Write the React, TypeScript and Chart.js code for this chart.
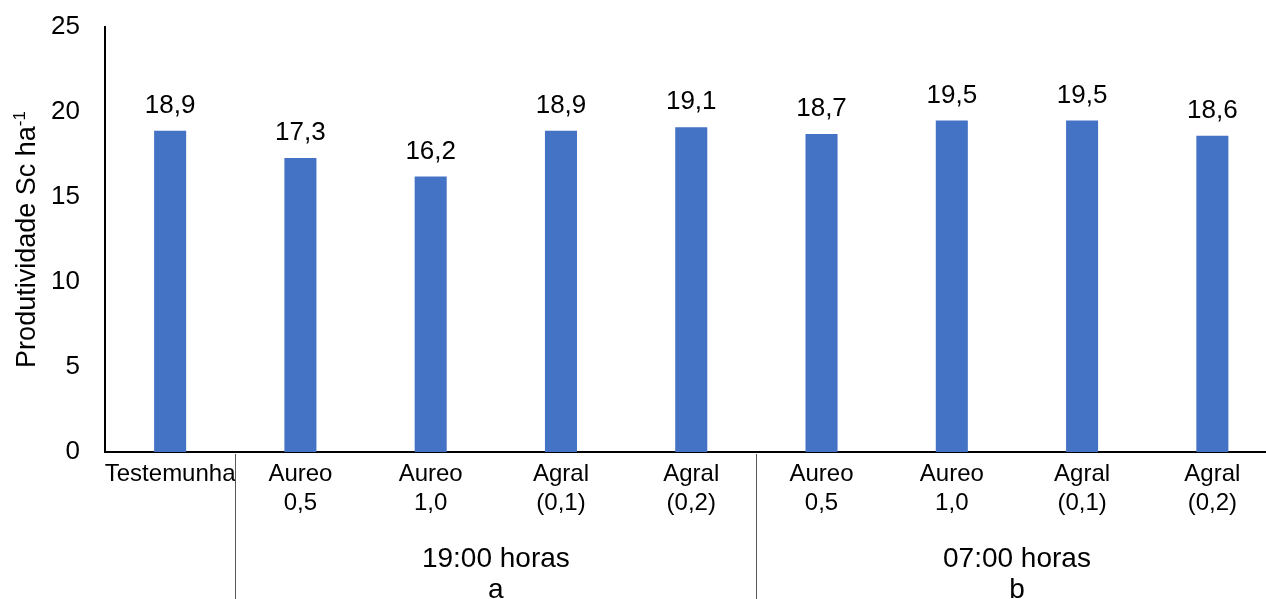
import React, { useEffect, useRef } from "react";
import { Chart, registerables } from "chart.js";

Chart.register(...registerables);

const FONT = "'Liberation Sans', Arial, sans-serif";

const categories: string[][] = [
  ["Testemunha"],
  ["Aureo", "0,5"],
  ["Aureo", "1,0"],
  ["Agral", "(0,1)"],
  ["Agral", "(0,2)"],
  ["Aureo", "0,5"],
  ["Aureo", "1,0"],
  ["Agral", "(0,1)"],
  ["Agral", "(0,2)"],
];
const values: number[] = [18.9, 17.3, 16.2, 18.9, 19.1, 18.7, 19.5, 19.5, 18.6];
const valueLabels: string[] = ["18,9", "17,3", "16,2", "18,9", "19,1", "18,7", "19,5", "19,5", "18,6"];
const groupLabels: string[][] = [
  ["19:00 horas", "a"],
  ["07:00 horas", "b"],
];
const groupStart: number[] = [1, 5];
const groupEnd: number[] = [4, 8];
const yMin = 0;
const yMax = 25;
const yStep = 5;
const yTitle = "Produtividade Sc ha";
const yTitleSup = "-1";

const overlayPlugin = {
  id: "overlay",
  afterDraw(chart: any) {
    const ctx: CanvasRenderingContext2D = chart.ctx;
    const area = chart.chartArea;
    const xScale = chart.scales.x;
    const meta = chart.getDatasetMeta(0);
    ctx.save();
    // value labels
    ctx.fillStyle = "#000";
    ctx.font = `26px ${FONT}`;
    ctx.textAlign = "center";
    ctx.textBaseline = "alphabetic";
    meta.data.forEach((el: any, i: number) => {
      ctx.fillText(valueLabels[i], el.x, el.y - 18);
    });

    // y title (rotated)
    ctx.font = `27px ${FONT}`;
    const w1 = ctx.measureText(yTitle).width;
    ctx.font = `17px ${FONT}`;
    const w2 = ctx.measureText(yTitleSup).width;
    const total = w1 + w2;
    const cy = (area.top + area.bottom) / 2;
    ctx.translate(35, cy);
    ctx.rotate(-Math.PI / 2);
    ctx.textAlign = "left";
    ctx.font = `27px ${FONT}`;
    ctx.fillText(yTitle, -total / 2, 0);
    ctx.font = `17px ${FONT}`;
    ctx.fillText(yTitleSup, -total / 2 + w1, -10);
    ctx.setTransform(1, 0, 0, 1, 0, 0);

    // group separators and labels
    ctx.strokeStyle = "#595959";
    ctx.lineWidth = 1;
    groupStart.forEach((s, gi) => {
      const sx = Math.round((xScale.getPixelForValue(s - 1) + xScale.getPixelForValue(s)) / 2) + 0.5;
      ctx.beginPath();
      ctx.moveTo(sx, area.bottom + 2);
      ctx.lineTo(sx, chart.height);
      ctx.stroke();
      const cx = (xScale.getPixelForValue(s) + xScale.getPixelForValue(groupEnd[gi])) / 2;
      ctx.fillStyle = "#000";
      ctx.font = `28px ${FONT}`;
      ctx.textAlign = "center";
      ctx.fillText(groupLabels[gi][0], cx, area.bottom + 115);
      ctx.fillText(groupLabels[gi][1], cx, area.bottom + 146);
    });
    ctx.restore();
  },
};

export default function App() {
  const ref = useRef<HTMLCanvasElement | null>(null);
  useEffect(() => {
    if (!ref.current) return;
    const chart = new Chart(ref.current, {
      type: "bar",
      data: {
        labels: categories,
        datasets: [
          {
            data: values,
            backgroundColor: "#4472C4",
            borderWidth: 0,
            categoryPercentage: 1,
            barPercentage: 0.246,
          },
        ],
      },
      options: {
        responsive: false,
        animation: false,
        devicePixelRatio: 1,
        layout: { padding: { top: 27, right: 2.5, left: 0, bottom: 0 } },
        plugins: {
          legend: { display: false },
          tooltip: { enabled: false },
        },
        scales: {
          x: {
            grid: { display: false, drawTicks: false },
            border: { display: true, color: "#000", width: 2 },
            ticks: {
              color: "#000",
              font: { family: FONT, size: 24 },
              padding: 8,
              autoSkip: false,
              maxRotation: 0,
              minRotation: 0,
            },
            afterFit: (scale: any) => {
              scale.height = 188;
              scale.paddingLeft = 0;
              scale.paddingRight = 0;
            },
          },
          y: {
            min: yMin,
            max: yMax,
            grid: { display: false, drawTicks: false },
            border: { display: true, color: "#000", width: 2 },
            ticks: {
              stepSize: yStep,
              color: "#000",
              font: { family: FONT, size: 26 },
              padding: 25,
            },
            afterFit: (scale: any) => {
              scale.width = 105;
              scale.paddingTop = 0;
              scale.paddingBottom = 0;
            },
          },
        },
      },
      plugins: [overlayPlugin],
    });
    return () => chart.destroy();
  }, []);
  return (
    <div style={{ position: "absolute", left: 0, top: 0, width: 1266, height: 599, overflow: "hidden", background: "#fff" }}>
      <canvas ref={ref} width={1280} height={640} style={{ display: "block", width: 1280, height: 640 }} />
    </div>
  );
}
